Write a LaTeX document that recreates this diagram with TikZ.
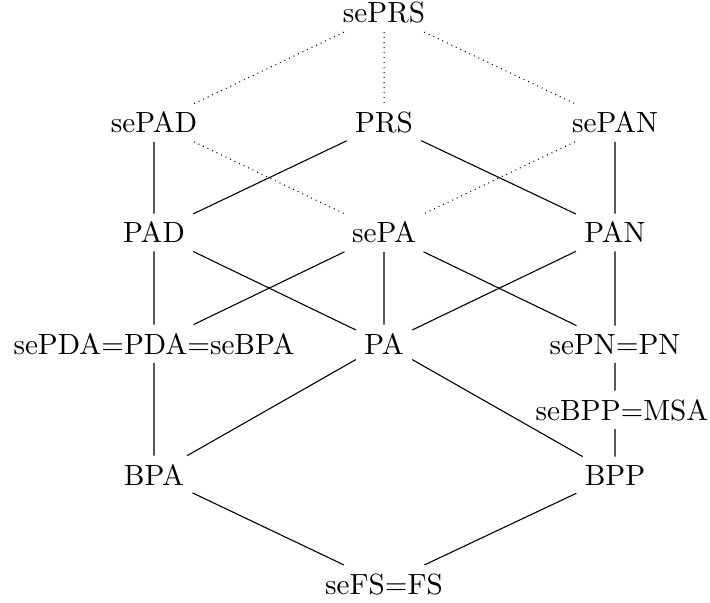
\documentclass[tikz,border=0pt]{standalone}
\begin{document}
\begin{tikzpicture}[x=0.5pt,y=-0.5pt,
  lbl/.style={inner sep=2.7pt,anchor=base,scale=1.46,transform shape},
  hi/.style={dotted,line width=0.5pt},
  lo/.style={line width=0.55pt}]
\useasboundingbox (0,0) rectangle (710,603);
\node[lbl] (sePRS) at (384,23) {sePRS};
\node[lbl] (sePAD) at (154,133) {sePAD};
\node[lbl] (PRS) at (384,133) {PRS};
\node[lbl] (sePAN) at (615,133) {sePAN};
\node[lbl] (PAD) at (154,243) {PAD};
\node[lbl] (sePA) at (384,243) {sePA};
\node[lbl] (PAN) at (615,243) {PAN};
\node[lbl] (sePDA) at (154,354) {sePDA=PDA=seBPA};
\node[lbl] (PA) at (384,354) {PA};
\node[lbl] (sePN) at (615,354) {sePN=PN};
\node[lbl] (seBPP) at (622,420) {seBPP=MSA};
\node[lbl] (BPA) at (154,485) {BPA};
\node[lbl] (BPP) at (615,485) {BPP};
\node[lbl] (seFS) at (384,594) {seFS=FS};
\draw[hi] (sePRS) -- (sePAD);
\draw[hi] (sePRS) -- (PRS);
\draw[hi] (sePRS) -- (sePAN);
\draw[hi] (sePAD) -- (sePA);
\draw[hi] (sePAN) -- (sePA);
\draw[lo] (sePAD) -- (PAD);
\draw[lo] (PRS) -- (PAD);
\draw[lo] (PRS) -- (PAN);
\draw[lo] (sePAN) -- (PAN);
\draw[lo] (PAD) -- (sePDA);
\draw[lo] (PAD) -- (PA);
\draw[lo] (sePA) -- (sePDA);
\draw[lo] (sePA) -- (PA);
\draw[lo] (sePA) -- (sePN);
\draw[lo] (PAN) -- (PA);
\draw[lo] (PAN) -- (sePN);
\draw[lo] (sePDA) -- (BPA);
\draw[lo] (PA) -- (BPA);
\draw[lo] (PA) -- (BPP);
\draw[lo] (sePN) -- (sePN |- seBPP.north);
\draw[lo] (BPP |- seBPP.south) -- (BPP);
\draw[lo] (BPA) -- (seFS);
\draw[lo] (BPP) -- (seFS);
\end{tikzpicture}
\end{document}
